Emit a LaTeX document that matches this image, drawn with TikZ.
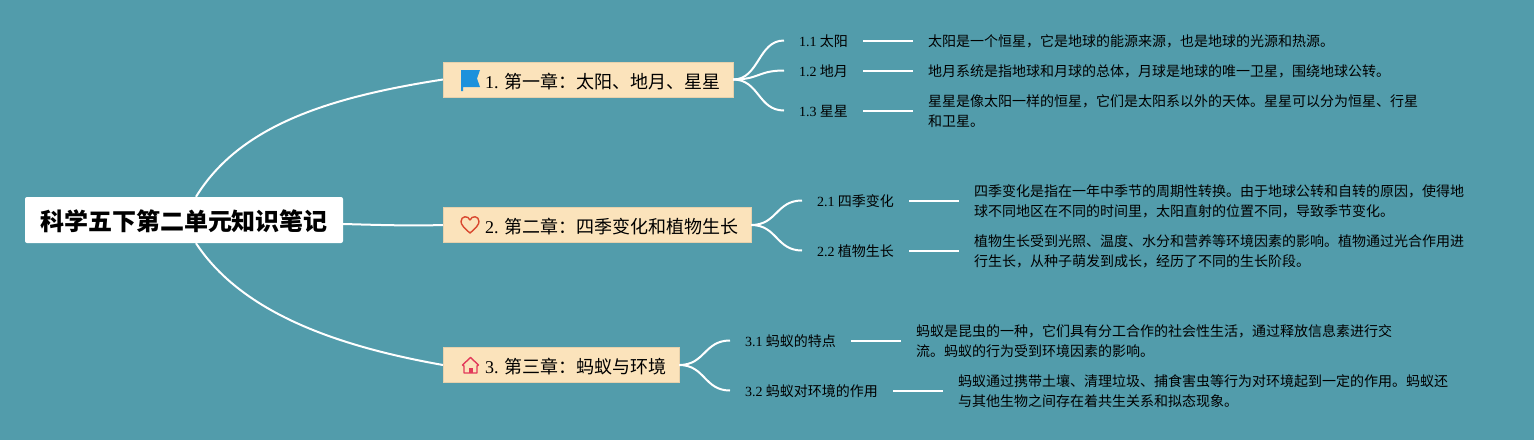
\documentclass[tikz,border=0pt]{standalone}
\usepackage{fontspec}
\usepackage{xcolor}
\setmainfont{Noto Sans CJK SC}
\newfontfamily\numfont{Liberation Serif}
\usetikzlibrary{positioning}
\definecolor{bgteal}{HTML}{529CAB}
\definecolor{boxsand}{HTML}{FBE3BB}
\definecolor{flagblue}{HTML}{1D91DC}
\definecolor{heartred}{HTML}{D9482F}
\definecolor{housered}{HTML}{E23A5A}
\tikzset{
    rootnode/.style={fill=white, rounded corners=2pt, inner xsep=15pt, inner ysep=0pt, minimum height=46pt,
        text height=22pt, text depth=2pt, font=\fontsize{24}{28}\selectfont\bfseries},
    chapternode/.style={fill=boxsand, draw=boxsand!92!black, line width=0.3pt, anchor=west,
        inner xsep=13pt, inner ysep=0pt, minimum height=35pt, text height=19.6pt, text depth=2pt,
        font=\fontsize{18}{22}\selectfont},
    subnode/.style={anchor=west, inner xsep=15pt, inner ysep=0pt, font=\fontsize{14}{20}\selectfont},
    leafnode/.style={anchor=west, align=left, inner xsep=15pt, inner ysep=0pt, font=\fontsize{14}{20}\selectfont},
    branch/.style={white, line width=2pt},
    twig/.style={white, line width=2pt},
}
\begin{document}
\begin{tikzpicture}[x=1pt, y=-1pt]
    \useasboundingbox[fill=bgteal] (0,0) rectangle (1534,440);
    % centre and chapters
    \node[rootnode] (root) at (184,220) {科学五下第二单元知识笔记};
    \node[chapternode] (chapA) at (443,79.5) {\hspace{29pt}{\numfont 1.} 第一章：太阳、地月、星星};
    \node[chapternode] (chapB) at (443,225) {\hspace{29pt}{\numfont 2.} 第二章：四季变化和植物生长};
    \node[chapternode] (chapC) at (443,365) {\hspace{29pt}{\numfont 3.} 第三章：蚂蚁与环境};
    % sections
    \node[subnode] (subAa) at (784,41.5) {{\numfont 1.1} 太阳};
    \node[subnode] (subAb) at (784,71.5) {{\numfont 1.2} 地月};
    \node[subnode] (subAc) at (784,111.5) {{\numfont 1.3} 星星};
    \node[subnode] (subBa) at (802,201.5) {{\numfont 2.1} 四季变化};
    \node[subnode] (subBb) at (802,251.5) {{\numfont 2.2} 植物生长};
    \node[subnode] (subCa) at (730,341.5) {{\numfont 3.1} 蚂蚁的特点};
    \node[subnode] (subCb) at (730,391.5) {{\numfont 3.2} 蚂蚁对环境的作用};
    % notes
    \node[leafnode] (noteAa) at (913,41.5) {太阳是一个恒星，它是地球的能源来源，也是地球的光源和热源。};
    \node[leafnode] (noteAb) at (913,71.5) {地月系统是指地球和月球的总体，月球是地球的唯一卫星，围绕地球公转。};
    \node[leafnode] (noteAc) at (913,111.5) {星星是像太阳一样的恒星，它们是太阳系以外的天体。星星可以分为恒星、行星\\和卫星。};
    \node[leafnode] (noteBa) at (959,201.5) {四季变化是指在一年中季节的周期性转换。由于地球公转和自转的原因，使得地\\球不同地区在不同的时间里，太阳直射的位置不同，导致季节变化。};
    \node[leafnode] (noteBb) at (959,251.5) {植物生长受到光照、温度、水分和营养等环境因素的影响。植物通过光合作用进\\行生长，从种子萌发到成长，经历了不同的生长阶段。};
    \node[leafnode] (noteCa) at (901,341.5) {蚂蚁是昆虫的一种，它们具有分工合作的社会性生活，通过释放信息素进行交\\流。蚂蚁的行为受到环境因素的影响。};
    \node[leafnode] (noteCb) at (943,391.5) {蚂蚁通过携带土壤、清理垃圾、捕食害虫等行为对环境起到一定的作用。蚂蚁还\\与其他生物之间存在着共生关系和拟态现象。};
    % root branches
    \draw[branch] ([xshift=12pt]root.north) .. controls (240,125) and (330,97) .. (chapA.west);
    \draw[branch] ([yshift=-4pt]root.east) .. controls (380,225) and (410,226) .. (chapB.west);
    \draw[branch] ([xshift=12pt]root.south) .. controls (240,310) and (330,345) .. (chapC.west);
    % chapter to section
    \foreach \c/\s in {chapA/subAa, chapA/subAb, chapA/subAc, chapB/subBa, chapB/subBb, chapC/subCa, chapC/subCb} {
        \draw[twig] (\c.east) .. controls +(26,0) and ([shift={(-26pt,1pt)}]\s.west) .. ([yshift=1pt]\s.west);
    }
    % section to note
    \foreach \s/\n in {subAa/noteAa, subAb/noteAb, subAc/noteAc, subBa/noteBa, subBb/noteBb, subCa/noteCa, subCb/noteCb} {
        \draw[twig] ([yshift=1pt]\s.east) -- ([yshift=1pt]\n.west);
    }
    % icons
    \fill[flagblue] (461,70) -- (480,70) -- (477,78.5) -- (480,87) -- (463,87) -- (463,91) -- (461,91) -- cycle;
    \draw[heartred, line width=1.4pt, line join=round] (470,233) .. controls (464,228) and (461,224.5) .. (461,221.5)
        .. controls (461,216) and (468,215) .. (470,220) .. controls (472,215) and (479,216) .. (479,221.5)
        .. controls (479,224.5) and (476,228) .. (470,233) -- cycle;
    \draw[housered, line width=1.4pt, line join=round] (462.5,365) -- (470.5,357.5) -- (478.5,365) -- (477,366) -- (477,373) -- (464,373) -- (464,366) -- cycle;
    \fill[housered] (468.5,368) rectangle (472.5,373);
\end{tikzpicture}
\end{document}
